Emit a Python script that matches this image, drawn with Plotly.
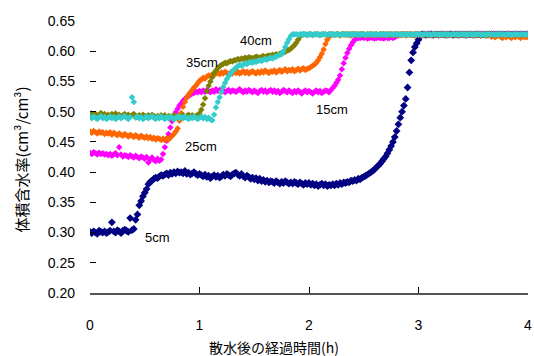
import plotly.graph_objects as go

# elapsed time after sprinkling, 1-minute readings (hours)
minutes = list(range(0, 241))
hours = [m / 60 for m in minutes]

depth_labels = ["5cm", "15cm", "25cm", "35cm", "40cm"]

theta_5cm = [
    0.301, 0.299, 0.302, 0.300, 0.298, 0.303, 0.301, 0.300, 0.302, 0.299,
    0.301, 0.303, 0.317, 0.302, 0.300, 0.304, 0.302, 0.299, 0.303, 0.305,
    0.303, 0.301, 0.324, 0.304, 0.306, 0.321, 0.330, 0.345, 0.352, 0.360,
    0.366, 0.372, 0.380, 0.384, 0.386, 0.389, 0.391, 0.390, 0.393, 0.395,
    0.394, 0.396, 0.398, 0.395, 0.399, 0.397, 0.400, 0.398, 0.401, 0.399,
    0.400, 0.398, 0.402, 0.397, 0.399, 0.396, 0.398, 0.400, 0.397, 0.395,
    0.397, 0.395, 0.393, 0.396, 0.392, 0.394, 0.390, 0.393, 0.395, 0.392,
    0.394, 0.391, 0.393, 0.396, 0.394, 0.397, 0.395, 0.393, 0.396, 0.398,
    0.399, 0.396, 0.394, 0.397, 0.393, 0.391, 0.394, 0.392, 0.389, 0.391,
    0.388, 0.390, 0.386, 0.389, 0.385, 0.387, 0.384, 0.386, 0.383, 0.385,
    0.384, 0.382, 0.385, 0.383, 0.381, 0.384, 0.382, 0.385, 0.383, 0.381,
    0.383, 0.381, 0.384, 0.382, 0.380, 0.383, 0.381, 0.379, 0.382, 0.380,
    0.382, 0.379, 0.381, 0.378, 0.380, 0.377, 0.379, 0.381, 0.378, 0.380,
    0.377, 0.379, 0.378, 0.380, 0.378, 0.381, 0.379, 0.382, 0.380, 0.383,
    0.382, 0.384, 0.383, 0.386, 0.385, 0.387, 0.386, 0.389, 0.388, 0.391,
    0.392, 0.394, 0.396, 0.398, 0.400, 0.402, 0.405, 0.408, 0.411, 0.414,
    0.418, 0.422, 0.426, 0.431, 0.437, 0.443, 0.450, 0.458, 0.468, 0.479,
    0.490, 0.500, 0.510, 0.521, 0.540, 0.565, 0.585, 0.598, 0.607, 0.613,
    0.619, 0.625, 0.628, 0.628, 0.627, 0.628, 0.628, 0.628, 0.627, 0.628,
    0.628, 0.627, 0.628, 0.628, 0.628, 0.627, 0.628, 0.628, 0.628, 0.627,
    0.628, 0.628, 0.627, 0.628, 0.628, 0.628, 0.627, 0.628, 0.628, 0.628,
    0.627, 0.628, 0.628, 0.628, 0.627, 0.628, 0.628, 0.627, 0.628, 0.628,
    0.628, 0.628, 0.627, 0.628, 0.628, 0.628, 0.628, 0.627, 0.628, 0.628,
    0.628, 0.627, 0.628, 0.628, 0.628, 0.627, 0.628, 0.628, 0.627, 0.628,
    0.628,
]

theta_15cm = [
    0.432, 0.430, 0.433, 0.431, 0.429, 0.432, 0.430, 0.431, 0.429, 0.430,
    0.428, 0.430, 0.427, 0.429, 0.431, 0.428, 0.441, 0.429, 0.426, 0.428,
    0.427, 0.425, 0.428, 0.426, 0.424, 0.427, 0.425, 0.423, 0.426, 0.424,
    0.422, 0.425, 0.416, 0.421, 0.424, 0.420, 0.418, 0.422, 0.419, 0.421,
    0.430, 0.441, 0.452, 0.463, 0.474, 0.484, 0.492, 0.499, 0.505, 0.510,
    0.514, 0.518, 0.521, 0.524, 0.526, 0.528, 0.530, 0.531, 0.533, 0.532,
    0.534, 0.532, 0.535, 0.533, 0.536, 0.534, 0.532, 0.535, 0.533, 0.537,
    0.534, 0.536, 0.533, 0.535, 0.532, 0.534, 0.536, 0.533, 0.535, 0.534,
    0.533, 0.535, 0.537, 0.534, 0.532, 0.535, 0.533, 0.536, 0.534, 0.532,
    0.535, 0.533, 0.531, 0.534, 0.536, 0.533, 0.535, 0.532, 0.534, 0.536,
    0.533, 0.535, 0.532, 0.534, 0.531, 0.533, 0.536, 0.534, 0.532, 0.535,
    0.533, 0.531, 0.534, 0.532, 0.535, 0.533, 0.530, 0.533, 0.535, 0.532,
    0.534, 0.532, 0.530, 0.533, 0.535, 0.532, 0.534, 0.531, 0.533, 0.535,
    0.534, 0.532, 0.536, 0.539, 0.543, 0.548, 0.553, 0.560, 0.570, 0.580,
    0.589, 0.597, 0.604, 0.610, 0.615, 0.619, 0.621, 0.622, 0.622, 0.623,
    0.622, 0.623, 0.621, 0.622, 0.623, 0.622, 0.621, 0.622, 0.623, 0.622,
    0.622, 0.621, 0.623, 0.622, 0.622, 0.624, 0.622, 0.623, 0.625, 0.626,
    0.627, 0.628, 0.628, 0.627, 0.628, 0.628, 0.628, 0.627, 0.628, 0.628,
    0.628, 0.627, 0.628, 0.628, 0.628, 0.627, 0.628, 0.628, 0.628, 0.627,
    0.628, 0.628, 0.627, 0.628, 0.628, 0.628, 0.627, 0.628, 0.628, 0.628,
    0.627, 0.628, 0.628, 0.628, 0.627, 0.628, 0.628, 0.627, 0.628, 0.628,
    0.628, 0.628, 0.627, 0.628, 0.628, 0.628, 0.628, 0.627, 0.628, 0.628,
    0.628, 0.627, 0.628, 0.628, 0.628, 0.627, 0.628, 0.628, 0.627, 0.628,
    0.628, 0.628, 0.627, 0.628, 0.628, 0.628, 0.627, 0.628, 0.628, 0.628,
    0.628,
]

theta_25cm = [
    0.467, 0.465, 0.468, 0.466, 0.464, 0.467, 0.465, 0.466, 0.463, 0.465,
    0.464, 0.466, 0.462, 0.465, 0.463, 0.461, 0.464, 0.462, 0.460, 0.463,
    0.461, 0.459, 0.462, 0.460, 0.458, 0.461, 0.459, 0.457, 0.460, 0.458,
    0.457, 0.459, 0.456, 0.458, 0.455, 0.457, 0.454, 0.456, 0.455, 0.453,
    0.455, 0.453, 0.456, 0.454, 0.457, 0.460, 0.463, 0.467, 0.472, 0.485,
    0.498, 0.508, 0.516, 0.523, 0.528, 0.532, 0.536, 0.540, 0.543, 0.547,
    0.551, 0.553, 0.556, 0.555, 0.558, 0.560, 0.559, 0.562, 0.561, 0.563,
    0.564, 0.562, 0.565, 0.563, 0.566, 0.564, 0.562, 0.565, 0.563, 0.566,
    0.564, 0.566, 0.563, 0.565, 0.567, 0.564, 0.566, 0.563, 0.565, 0.567,
    0.565, 0.563, 0.566, 0.564, 0.567, 0.565, 0.568, 0.566, 0.564, 0.567,
    0.566, 0.568, 0.565, 0.567, 0.569, 0.566, 0.568, 0.570, 0.567, 0.569,
    0.568, 0.570, 0.567, 0.569, 0.571, 0.568, 0.570, 0.572, 0.569, 0.571,
    0.572, 0.574, 0.576, 0.578, 0.581, 0.585, 0.590, 0.596, 0.603, 0.612,
    0.619, 0.624, 0.627, 0.628, 0.627, 0.628, 0.628, 0.626, 0.628, 0.628,
    0.627, 0.628, 0.628, 0.626, 0.628, 0.627, 0.628, 0.628, 0.627, 0.628,
    0.628, 0.626, 0.628, 0.627, 0.628, 0.628, 0.626, 0.628, 0.627, 0.628,
    0.627, 0.628, 0.628, 0.626, 0.628, 0.627, 0.628, 0.628, 0.626, 0.628,
    0.628, 0.627, 0.628, 0.626, 0.628, 0.628, 0.627, 0.628, 0.626, 0.628,
    0.627, 0.628, 0.626, 0.628, 0.628, 0.627, 0.628, 0.626, 0.628, 0.627,
    0.628, 0.626, 0.628, 0.627, 0.628, 0.628, 0.626, 0.628, 0.627, 0.628,
    0.627, 0.628, 0.626, 0.628, 0.627, 0.628, 0.626, 0.628, 0.628, 0.627,
    0.628, 0.626, 0.627, 0.628, 0.626, 0.628, 0.627, 0.628, 0.626, 0.627,
    0.624, 0.626, 0.623, 0.625, 0.627, 0.624, 0.622, 0.625, 0.623, 0.626,
    0.624, 0.622, 0.625, 0.623, 0.626, 0.624, 0.622, 0.625, 0.623, 0.624,
    0.623,
]

theta_35cm = [
    0.495, 0.497, 0.494, 0.496, 0.493, 0.495, 0.498, 0.494, 0.496, 0.493,
    0.495, 0.492, 0.496, 0.494, 0.497, 0.493, 0.495, 0.492, 0.494, 0.496,
    0.493, 0.495, 0.492, 0.494, 0.496, 0.493, 0.491, 0.494, 0.492, 0.495,
    0.493, 0.491, 0.494, 0.492, 0.495, 0.493, 0.490, 0.493, 0.491, 0.494,
    0.492, 0.494, 0.491, 0.493, 0.490, 0.492, 0.494, 0.491, 0.493, 0.490,
    0.492, 0.494, 0.491, 0.493, 0.495, 0.492, 0.494, 0.491, 0.493, 0.495,
    0.497, 0.503, 0.512, 0.522, 0.534, 0.543, 0.550, 0.557, 0.563, 0.568,
    0.572, 0.575, 0.577, 0.579, 0.581, 0.580, 0.582, 0.584, 0.583, 0.585,
    0.585, 0.587, 0.586, 0.588, 0.587, 0.589, 0.588, 0.590, 0.589, 0.588,
    0.589, 0.591, 0.590, 0.589, 0.591, 0.592, 0.590, 0.592, 0.593, 0.592,
    0.594, 0.593, 0.595, 0.594, 0.596, 0.597, 0.598, 0.599, 0.601, 0.602,
    0.604, 0.607, 0.610, 0.614, 0.619, 0.624, 0.627, 0.628, 0.628, 0.627,
    0.628, 0.628, 0.627, 0.628, 0.628, 0.628, 0.627, 0.628, 0.628, 0.628,
    0.627, 0.628, 0.628, 0.628, 0.627, 0.628, 0.628, 0.627, 0.628, 0.628,
    0.628, 0.628, 0.627, 0.628, 0.628, 0.628, 0.628, 0.627, 0.628, 0.628,
    0.628, 0.627, 0.628, 0.628, 0.628, 0.627, 0.628, 0.628, 0.627, 0.628,
    0.628, 0.628, 0.627, 0.628, 0.628, 0.628, 0.627, 0.628, 0.628, 0.628,
    0.627, 0.628, 0.628, 0.628, 0.627, 0.628, 0.628, 0.627, 0.628, 0.628,
    0.628, 0.628, 0.627, 0.628, 0.628, 0.628, 0.628, 0.627, 0.628, 0.628,
    0.628, 0.627, 0.628, 0.628, 0.628, 0.627, 0.628, 0.628, 0.627, 0.628,
    0.628, 0.628, 0.627, 0.628, 0.628, 0.628, 0.627, 0.628, 0.628, 0.628,
    0.627, 0.628, 0.628, 0.628, 0.627, 0.628, 0.628, 0.627, 0.628, 0.628,
    0.628, 0.628, 0.627, 0.628, 0.628, 0.628, 0.628, 0.627, 0.628, 0.628,
    0.628, 0.627, 0.628, 0.628, 0.628, 0.627, 0.628, 0.628, 0.627, 0.628,
    0.628,
]

theta_40cm = [
    0.491, 0.489, 0.492, 0.490, 0.488, 0.491, 0.493, 0.489, 0.491, 0.488,
    0.490, 0.492, 0.489, 0.491, 0.488, 0.490, 0.492, 0.489, 0.491, 0.493,
    0.490, 0.488, 0.491, 0.524, 0.516, 0.490, 0.492, 0.489, 0.491, 0.488,
    0.490, 0.492, 0.489, 0.491, 0.493, 0.490, 0.488, 0.491, 0.489, 0.492,
    0.490, 0.488, 0.491, 0.489, 0.492, 0.490, 0.487, 0.490, 0.492, 0.489,
    0.491, 0.489, 0.492, 0.490, 0.488, 0.491, 0.489, 0.492, 0.490, 0.488,
    0.490, 0.492, 0.489, 0.491, 0.488, 0.490, 0.487, 0.486, 0.495, 0.507,
    0.516, 0.524, 0.533, 0.541, 0.548, 0.554, 0.559, 0.563, 0.567, 0.570,
    0.573, 0.575, 0.577, 0.576, 0.578, 0.580, 0.579, 0.581, 0.582, 0.581,
    0.583, 0.582, 0.584, 0.585, 0.584, 0.586, 0.587, 0.586, 0.588, 0.589,
    0.588, 0.590, 0.591, 0.593, 0.594, 0.595, 0.600, 0.607, 0.614, 0.620,
    0.625, 0.628, 0.628, 0.628, 0.627, 0.628, 0.628, 0.628, 0.628, 0.627,
    0.628, 0.628, 0.627, 0.628, 0.628, 0.628, 0.627, 0.628, 0.628, 0.628,
    0.627, 0.628, 0.628, 0.628, 0.627, 0.628, 0.628, 0.627, 0.628, 0.628,
    0.628, 0.628, 0.627, 0.628, 0.628, 0.628, 0.628, 0.627, 0.628, 0.628,
    0.628, 0.627, 0.628, 0.628, 0.628, 0.627, 0.628, 0.628, 0.627, 0.628,
    0.628, 0.628, 0.627, 0.628, 0.628, 0.628, 0.627, 0.628, 0.628, 0.628,
    0.627, 0.628, 0.628, 0.628, 0.627, 0.628, 0.628, 0.627, 0.628, 0.628,
    0.628, 0.628, 0.627, 0.628, 0.628, 0.628, 0.628, 0.627, 0.628, 0.628,
    0.628, 0.627, 0.628, 0.628, 0.628, 0.627, 0.628, 0.628, 0.627, 0.628,
    0.628, 0.628, 0.627, 0.628, 0.628, 0.628, 0.627, 0.628, 0.628, 0.628,
    0.627, 0.628, 0.628, 0.628, 0.627, 0.628, 0.628, 0.627, 0.628, 0.628,
    0.628, 0.628, 0.627, 0.628, 0.628, 0.628, 0.628, 0.627, 0.628, 0.628,
    0.628, 0.627, 0.628, 0.628, 0.628, 0.627, 0.628, 0.628, 0.627, 0.628,
    0.628,
]

series_values = [theta_5cm, theta_15cm, theta_25cm, theta_35cm, theta_40cm]
colors = ["#000080", "#FF00FF", "#FF6600", "#808000", "#33CCCC"]
marker_sizes = [6, 5, 5, 5, 5]

# label anchor positions (data coordinates)
label_x = [0.615, 2.21, 1.01, 1.02, 1.52]
label_y = [0.292, 0.503, 0.443, 0.582, 0.6185]

x_ticks = [0, 1, 2, 3, 4]
y_ticks = [0.20, 0.25, 0.30, 0.35, 0.40, 0.45, 0.50, 0.55, 0.60, 0.65]

fig = go.Figure()
for name, vals, col, ms in zip(depth_labels, series_values, colors, marker_sizes):
    fig.add_trace(go.Scatter(
        x=hours, y=vals, mode="markers", name=name,
        marker=dict(symbol="diamond", size=ms, color=col, line=dict(width=0)),
        showlegend=False, hoverinfo="skip",
    ))

font_main = "Liberation Sans, Arial, sans-serif"
annotations = []
for name, lx, ly in zip(depth_labels, label_x, label_y):
    annotations.append(dict(x=lx, y=ly, xref="x", yref="y", text=name,
                            showarrow=False, font=dict(size=13, color="black", family=font_main)))

annotations.append(dict(x=0.421, y=-0.2, xref="paper", yref="paper",
                        text="散水後の経過時間(h)", showarrow=False,
                        xanchor="center", yanchor="middle",
                        font=dict(size=14, color="black", family="Noto Sans CJK JP")))
annotations.append(dict(x=-0.156, y=0.49, xref="paper", yref="paper",
                        text="体積含水率(cm³/cm³)", showarrow=False, textangle=-90,
                        xanchor="center", yanchor="middle",
                        font=dict(size=15, color="black", family="Noto Sans CJK JP")))

fig.update_layout(
    width=534, height=356,
    margin=dict(l=90, r=6, t=21, b=63, autoexpand=False),
    paper_bgcolor="white", plot_bgcolor="white",
    annotations=annotations,
    xaxis=dict(range=[0, 4], tickvals=x_ticks, ticktext=[str(v) for v in x_ticks],
               showgrid=False, zeroline=False, showline=True, linecolor="#555555", linewidth=2,
               ticks="inside", ticklen=6, tickcolor="black", tickwidth=1,
               ticklabelstandoff=18,
               tickfont=dict(size=14, color="black", family=font_main)),
    yaxis=dict(range=[0.20, 0.65], tickvals=y_ticks, ticktext=[f"{v:.2f}" for v in y_ticks],
               showgrid=False, zeroline=False, showline=False,
               ticks="inside", ticklen=6, tickcolor="black", tickwidth=1,
               ticklabelstandoff=14,
               tickfont=dict(size=14, color="black", family=font_main)),
)

fig.write_html("out.html", config={"displayModeBar": False},
               post_script="document.body.style.margin='0';")
